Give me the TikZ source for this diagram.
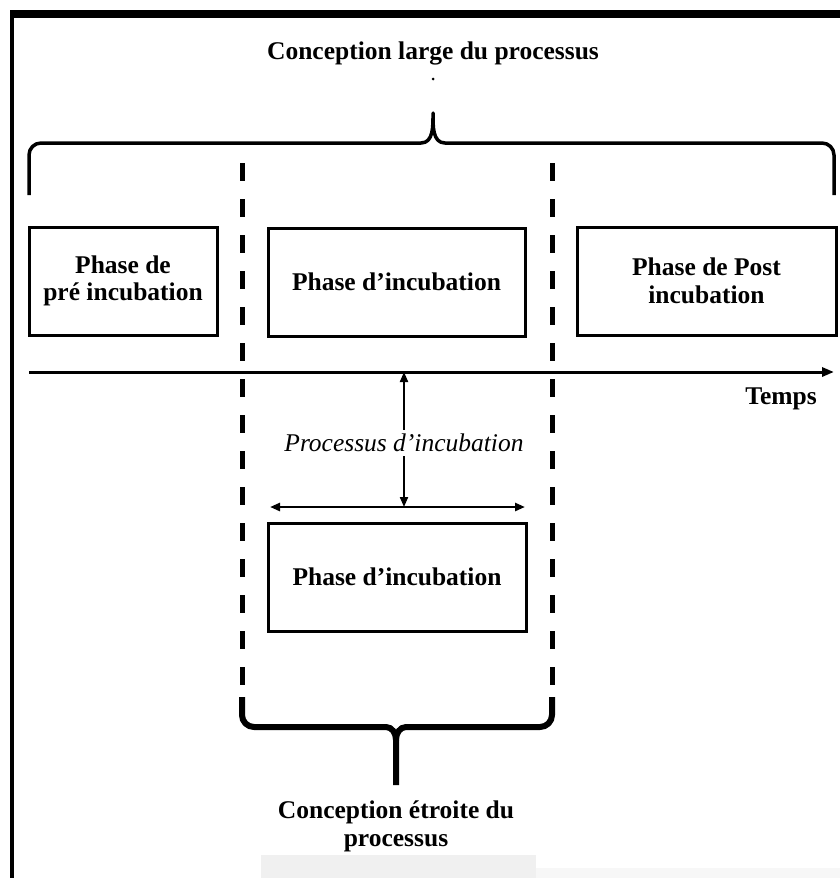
\documentclass[tikz,border=0pt]{standalone}
\usepackage{fontspec}
\setmainfont{Liberation Serif}
\usetikzlibrary{positioning,arrows.meta}

\begin{document}
\begin{tikzpicture}[x=1pt,y=-1pt,
        phase/.style={
            % The shape
            rectangle,
            minimum height = 108pt,
            % The border
            line width = 3pt,
            draw = black!100,
            % Font
            font = \fontsize{25.5}{27.5}\selectfont\bfseries,
            align = center
        },
        caption/.style={
            % The shape
            inner sep = 0pt,
            % Font
            font = \fontsize{25.5}{28}\selectfont\bfseries,
            align = center
        },
        timeline/.style={
            line width = 3pt,
            -{Triangle[length=12pt,width=9pt]}
        },
        pointer/.style={
            line width = 2pt,
            -{Triangle[length=10pt,width=8pt]}
        },
        limit/.style={
            line width = 5pt,
            dash pattern = on 18pt off 18pt
        },
        brace/.style={
            line width = 3.5pt,
            line join = round
        }
    ]
        \useasboundingbox (0,0) rectangle (840,878);

        % frame of the scan
        \fill[black!6] (261,855) rectangle (536,878);
        \fill[black!3] (536,868) rectangle (840,878);
        \fill (10,10) rectangle (840,18);
        \fill (10,10) rectangle (14,878);

        % broad view
        \node (broad) [caption] at (433,53) {Conception large du processus};
        \fill (433,79) circle (1.5pt);
        \draw[brace] (29,195) -- (29,155) to[out=90,in=180] (41,143) -- (421,143)
            to[out=0,in=-90] (433,113) to[out=-90,in=180] (445,143) -- (822,143)
            to[out=0,in=90] (834,155) -- (834,195);

        % phases
        \node (preIncub) [phase,minimum width=188pt] at (123,281) {Phase de\\pré incubation};
        \node (incub) [phase,minimum width=257pt] at (396.5,282) {Phase d’incubation};
        \node (postIncub) [phase,minimum width=259pt] at (706.5,281) {Phase de Post\\incubation};

        % time axis
        \coordinate (axisStart) at (29,372);
        \coordinate (axisEnd) at (834,372);
        \draw[timeline] (axisStart) -- (axisEnd);
        \node (temps) [caption,below left=16pt and 17pt of axisEnd] {Temps};

        % narrow view
        \draw[limit] (242,163) -- (242,697);
        \draw[limit] (552,163) -- (552,697);

        \coordinate (spanLeft) at (270,507);
        \coordinate (spanRight) at (525,507);
        \node (process) [fill=white,inner sep=4pt,font=\fontsize{25.5}{27}\selectfont\itshape] at (404,443) {Processus d’incubation};
        \draw[pointer] (process) -- (process |- axisStart);
        \draw[pointer] (process) -- (process |- spanLeft);
        \draw[pointer,line width=2.5pt,{Triangle[length=10pt,width=8pt]}-{Triangle[length=10pt,width=8pt]}] (spanLeft) -- (spanRight);

        \node (incubNarrow) [phase,minimum width=258pt] at (397,577) {Phase d’incubation};

        \coordinate (stemEnd) at (396,785);
        \draw[brace,line width=6pt] (242,697) -- (242,715) to[out=-90,in=180] (254,727) -- (386,727)
            to[out=0,in=90] (396,740) -- (stemEnd);
        \draw[brace,line width=6pt] (552,697) -- (552,715) to[out=-90,in=0] (540,727) -- (406,727)
            to[out=180,in=90] (396,740);
        \node (narrow) [caption,below=16pt of stemEnd] {Conception étroite du\\processus};
    \end{tikzpicture}
\end{document}
